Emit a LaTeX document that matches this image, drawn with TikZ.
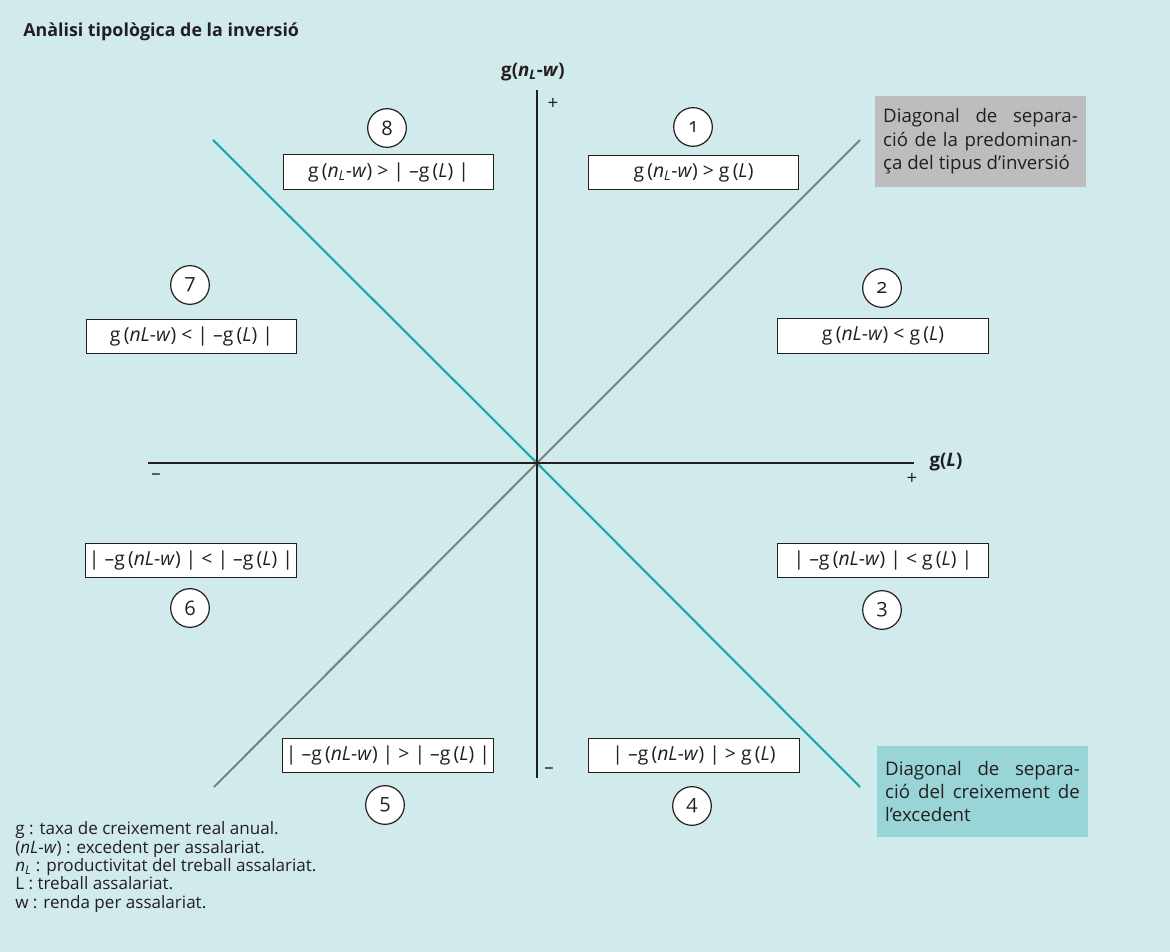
\documentclass[tikz,border=0pt]{standalone}
\usepackage{fontspec}
\setmainfont{Open Sans}
\definecolor{bgcyan}{HTML}{D1EAEC}
\definecolor{diaggray}{HTML}{808083}
\definecolor{diagteal}{HTML}{1AA9A8}
\definecolor{notegray}{HTML}{BDBDC0}
\definecolor{noteteal}{HTML}{99D5D6}
\definecolor{inkdark}{HTML}{231F20}
\newcommand{\nLw}{\textit{nL}-\textit{w}}
\newcommand{\nsubLw}{\textit{n}\textsubscript{\textit{L}}-\textit{w}}

\begin{document}
\begin{tikzpicture}[x=0.75pt,y=0.75pt,yscale=-1,xscale=1,
  every node/.style={text=inkdark},
  condbox/.style={draw=inkdark,line width=0.9pt,fill=white,minimum width=158pt,minimum height=26pt,inner sep=0pt,font=\fontsize{14.5}{17}\selectfont},
  numcirc/.style={circle,draw=inkdark,line width=0.9pt,fill=white,minimum size=29pt,inner sep=0pt,font=\fontsize{15}{17}\selectfont\addfontfeatures{Numbers=OldStyle}},
  notebox/.style={minimum width=158pt,minimum height=68pt,inner sep=0pt,text width=146pt,align=justify,font=\fontsize{14}{17.6}\selectfont},
  axislabel/.style={font=\bfseries\fontsize{14}{16}\selectfont},
  signmark/.style={font=\fontsize{14}{16}\selectfont}]
%uncomment if require: \path (0,952); %set diagram left start at 0, and has height of 952
\useasboundingbox (0,0) rectangle (1170,952);
\fill[bgcyan] (0,0) rectangle (1170,952);

% Coordinates
\coordinate (O) at (537,463);
\coordinate (yT) at (537,90);
\coordinate (yB) at (537,778);
\coordinate (xL) at (148,463);
\coordinate (xR) at (914,463);
\coordinate (gA) at (214,787);
\coordinate (gB) at (860,140);
\coordinate (tA) at (213,140);
\coordinate (tB) at (860,787);

%Straight Lines [diagonals]
\draw [diaggray,line width=1.5pt] (gA) -- (O) -- (gB) ;
\draw [diagteal,line width=1.6pt] (tA) -- (O) -- (tB) ;
%Straight Lines [axes]
\draw [inkdark,line width=0.9pt] (xL) -- (xR) ;
\draw [inkdark,line width=0.9pt] (yT) -- (yB) ;

% Text Node
\draw (23,37) node [anchor=base west,inner sep=0pt,font=\bfseries\fontsize{13.4}{16}\selectfont] (title) {Anàlisi tipològica de la inversió};
\draw (533,72) node [axislabel] (ylab) {g(\nsubLw)};
\draw (946,462) node [axislabel] (xlab) {g(\textit{L})};
\draw (553,104) node [signmark] (yplus) {+};
\draw (549,771) node [signmark] (yminus) {--};
\draw (912,479) node [signmark] (xplus) {+};
\draw (156,477) node [signmark] (xminus) {--};

%Shape: Rectangle [conditions]
\draw (693.5,172.5) node [condbox] (b1) {g\,(\nsubLw) > g\,(\textit{L})};
\draw (883,336) node [condbox] (b2) {g\,(\nLw) < g\,(\textit{L})};
\draw (883,560.5) node [condbox] (b3) {| --g\,(\nLw) | < g\,(\textit{L}) |};
\draw (694,755.5) node [condbox] (b4) {| --g\,(\nLw) | > g\,(\textit{L})};
\draw (388,755.5) node [condbox] (b5) {| --g\,(\nLw) | > | --g\,(\textit{L}) |};
\draw (191,560.5) node [condbox] (b6) {| --g\,(\nLw) | < | --g\,(\textit{L}) |};
\draw (191.5,336.5) node [condbox] (b7) {g\,(\nLw) < | --g\,(\textit{L}) |};
\draw (388.5,172) node [condbox] (b8) {g\,(\nsubLw) > | --g\,(\textit{L}) |};

%Shape: Circle [numbers]
\draw (693,127) node [numcirc] (c1) {1};
\draw (882,288) node [numcirc] (c2) {2};
\draw (882,610) node [numcirc] (c3) {3};
\draw (692,806) node [numcirc] (c4) {4};
\draw (385,805) node [numcirc] (c5) {5};
\draw (190,608) node [numcirc] (c6) {6};
\draw (190,285) node [numcirc] (c7) {7};
\draw (387,128) node [numcirc] (c8) {8};

%Shape: Rectangle [notes]
\draw (980.5,141.5) node [notebox,fill=notegray] (grayNote) {\hyphenpenalty=10000 Diagonal de separa-\linebreak ció de la predominan-\linebreak ça del tipus d’inversió};
\draw (982.5,791.5) node [notebox,fill=noteteal] (tealNote) {\hyphenpenalty=10000 Diagonal de separa-\linebreak ció del creixement de\linebreak l’excedent};

% Text Node [legend]
\draw (15,908) node [anchor=base west,inner sep=0pt,align=left,font=\fontsize{12.8}{13.7}\selectfont] (legend) {g : taxa de creixement real anual.\\(\nLw) : excedent per assalariat.\\\textit{n}\textsubscript{\textit{L}} : productivitat del treball assalariat.\\L : treball assalariat.\\w : renda per assalariat.};

\end{tikzpicture}
\end{document}
